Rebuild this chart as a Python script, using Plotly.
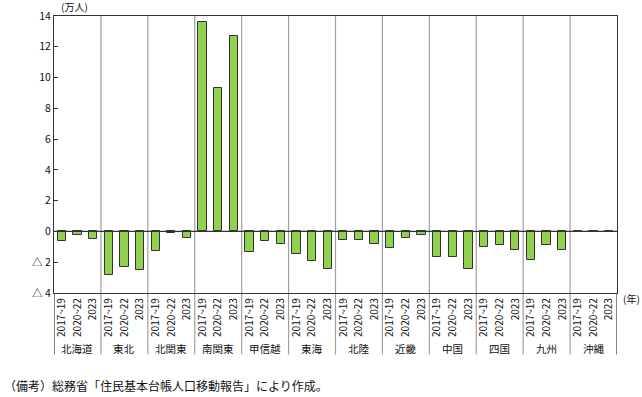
import plotly.graph_objects as go

regions = ["北海道", "東北", "北関東", "南関東", "甲信越", "東海", "北陸", "近畿", "中国", "四国", "九州", "沖縄"]
periods = ["2017~19", "2020~22", "2023"]
v_2017_19 = [-0.6, -2.8, -1.25, 13.6, -1.34, -1.47, -0.56, -1.08, -1.64, -1.04, -1.84, -0.05]
v_2020_22 = [-0.2, -2.3, -0.1, 9.33, -0.65, -1.93, -0.56, -0.41, -1.69, -0.91, -0.86, 0.03]
v_2023 = [-0.5, -2.53, -0.43, 12.7, -0.82, -2.45, -0.8, -0.24, -2.45, -1.23, -1.19, -0.05]
y_tickvals = [14, 12, 10, 8, 6, 4, 2, 0, -2, -4]
y_ticktext = ["14", "12", "10", "8", "6", "4", "2", "0", "△ 2", "△ 4"]

series = [v_2017_19, v_2020_22, v_2023]
xs, ys, labels = [], [], []
for i, r in enumerate(regions):
    for j in range(3):
        xs.append(i * 3 + j)
        ys.append(series[j][i])
        labels.append(periods[j])

font = "Noto Sans CJK JP"
fig = go.Figure()
fig.add_trace(go.Bar(x=xs, y=ys, width=0.53, hoverinfo="skip",
                     marker=dict(color="#92D050", line=dict(color="#333333", width=1))))

plot_h = 277
plot_w = 563
shapes = []
for k in range(1, len(regions)):
    shapes.append(dict(type="line", xref="x", yref="paper", x0=k * 3 - 0.5, x1=k * 3 - 0.5,
                       y0=-0.222, y1=1, line=dict(color="#a0a0a0", width=1.2), layer="below"))
for xv in [-0.5, 35.5]:
    shapes.append(dict(type="line", xref="x", yref="paper", x0=xv, x1=xv,
                       y0=-0.222, y1=0, line=dict(color="#333333", width=1.2)))
shapes.append(dict(type="line", xref="paper", yref="y", x0=0, x1=1, y0=0, y1=0,
                   line=dict(color="#333333", width=1.2)))

annotations = []
for i, r in enumerate(regions):
    annotations.append(dict(x=i * 3 + 1, y=-(348 - 293) / plot_h, xref="x", yref="paper", text=r,
                            showarrow=False, font=dict(size=10.5, color="#111", family=font),
                            yanchor="middle"))
annotations.append(dict(x=1.0 + 4 / plot_w, xanchor="left", y=-(298 - 293) / plot_h, yref="paper",
                        xref="paper", text="(年)", showarrow=False,
                        font=dict(size=10, color="#111", family=font), yanchor="middle"))
annotations.append(dict(x=5 / plot_w, xanchor="left", xref="paper", y=1.0 + 9 / plot_h, yref="paper",
                        text="(万人)", showarrow=False,
                        font=dict(size=10, color="#111", family=font), yanchor="middle"))
annotations.append(dict(x=-52 / plot_w, xanchor="left", xref="paper", y=-(385 - 293) / plot_h,
                        yref="paper", text="（備考）総務省「住民基本台帳人口移動報告」により作成。",
                        showarrow=False, font=dict(size=12, color="#111", family=font),
                        yanchor="middle"))

fig.update_layout(
    width=642, height=397,
    margin=dict(l=54, r=25, t=16, b=104, autoexpand=False),
    paper_bgcolor="white", plot_bgcolor="white",
    showlegend=False,
    bargap=0,
    font=dict(family=font, color="#111"),
    xaxis=dict(range=[-0.5, 35.5], tickvals=xs, ticktext=labels, tickangle=-90, automargin=False,
               tickfont=dict(size=10, family=font), showline=True, linecolor="#333333",
               linewidth=1.2, mirror=True, ticks="", showgrid=False, zeroline=False),
    yaxis=dict(range=[-4, 14], tickvals=y_tickvals, ticktext=y_ticktext, automargin=False,
               tickfont=dict(size=10.5, family=font), showline=True, linecolor="#333333",
               linewidth=1.2, mirror=True, ticks="inside", ticklen=4, tickcolor="#333333",
               showgrid=False, zeroline=False),
    shapes=shapes, annotations=annotations,
)
fig.write_html("out.html", config={"displayModeBar": False},
               post_script="document.body.style.margin='0';document.body.style.overflow='hidden';")
